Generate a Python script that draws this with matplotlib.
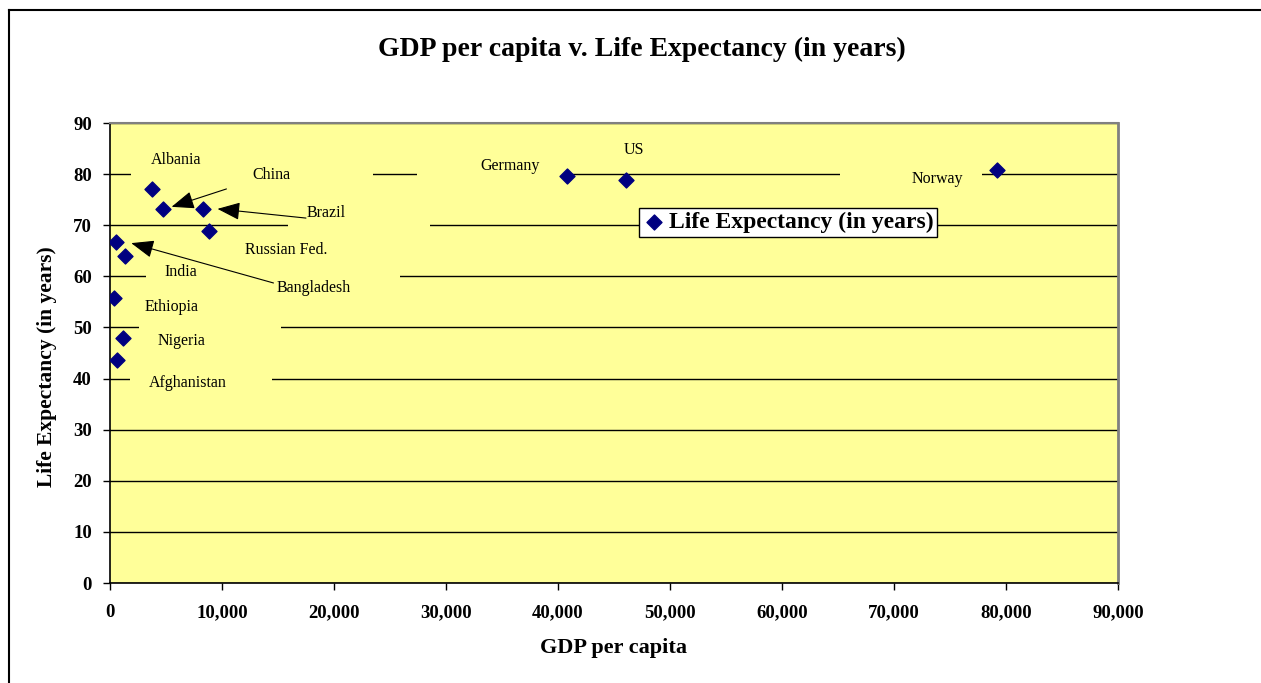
import numpy as np
import matplotlib
matplotlib.use('Agg')
from matplotlib import pyplot as plt
from matplotlib.patches import Rectangle
from matplotlib.lines import Line2D
from matplotlib.ticker import FuncFormatter

plt.rcParams['font.family'] = ['Liberation Serif', 'DejaVu Serif']

# data
countries = ['Albania', 'China', 'Brazil', 'Russian Fed.', 'Bangladesh', 'India',
             'Ethiopia', 'Nigeria', 'Afghanistan', 'Germany', 'US', 'Norway']
gdp = [3750, 4700, 8300, 8800, 540, 1300, 360, 1160, 600, 40800, 46100, 79200]
life_exp = [77.1, 73.2, 73.2, 68.9, 66.7, 64.0, 55.8, 47.9, 43.6, 79.6, 78.8, 80.8]

# label positions (data coords) for each country
label_pos = {
    'Albania': (5900, 82.7), 'China': (14400, 79.8), 'Brazil': (19300, 72.4),
    'Russian Fed.': (15700, 65.2), 'Bangladesh': (18200, 57.7), 'India': (6300, 60.9),
    'Ethiopia': (5500, 54.0), 'Nigeria': (6400, 47.3), 'Afghanistan': (6950, 39.1),
    'Germany': (35700, 81.6), 'US': (46800, 84.8), 'Norway': (73900, 79.1),
}
# arrows: tail point (label side) and tip (near the point)
arrow_tail = {'China': (10400, 77.1), 'Brazil': (17500, 71.4), 'Bangladesh': (14600, 58.7)}
arrow_tip = {'China': (5500, 73.6), 'Brazil': (9600, 73.2), 'Bangladesh': (1900, 66.5)}

# opaque label backgrounds that cut the gridlines: (y, x0, x1)
label_boxes = [(80, 1900, 23500), (80, 27400, 40700), (80, 65200, 77900),
               (70, 15900, 28600), (60, 3200, 25900), (50, 2600, 15300), (40, 1800, 14500)]

yellow = '#FFFF99'
navy = '#000080'

fig = plt.figure(figsize=(12.61, 6.83), dpi=100)
ax = fig.add_axes([0.0872, 0.1464, 0.7994, 0.6735])
ax.set_facecolor(yellow)

ax.scatter(gdp, life_exp, marker='D', s=58, color=navy, zorder=4,
           label='Life Expectancy (in years)')

ax.set_xlim(0, 90000)
ax.set_ylim(0, 90)
ax.set_xticks(np.arange(0, 90001, 10000))
ax.set_yticks(np.arange(0, 91, 10))
ax.xaxis.set_major_formatter(FuncFormatter(lambda v, p: f'{int(v):,}'))
ax.grid(axis='y', color='black', lw=1)
ax.set_axisbelow(True)

for y, x0, x1 in label_boxes:
    ax.add_patch(Rectangle((x0, y - 1.5), x1 - x0, 3, facecolor=yellow,
                           edgecolor='none', zorder=1.5))

for c in countries:
    lx, ly = label_pos[c]
    ax.text(lx, ly, c, fontsize=11.5, ha='center', va='center', zorder=5)

for c in arrow_tail:
    ax.annotate('', xy=arrow_tip[c], xytext=arrow_tail[c], zorder=5,
                arrowprops=dict(arrowstyle='-|>,head_length=1.4,head_width=0.55',
                                color='black', lw=0.8, shrinkA=0, shrinkB=0))

for s in ['top', 'right']:
    ax.spines[s].set_color('#808080')
ax.spines['right'].set_linewidth(2)
ax.spines['top'].set_linewidth(1.5)
for s in ['left', 'bottom']:
    ax.spines[s].set_color('black')
    ax.spines[s].set_linewidth(1.2)

ax.tick_params(axis='both', direction='out', length=5, width=1, labelsize=13.5)
ax.tick_params(axis='y', pad=8)
ax.tick_params(axis='x', pad=10)
for t in ax.get_xticklabels() + ax.get_yticklabels():
    t.set_fontweight('bold')

leg = ax.legend(loc='center', bbox_to_anchor=(0.6726, 0.784), frameon=True,
                fancybox=False, prop={'size': 17, 'weight': 'bold'},
                handletextpad=0.1, handlelength=1.0, borderpad=0.15,
                borderaxespad=0, markerscale=1.0)
leg.get_frame().set_edgecolor('black')
leg.get_frame().set_facecolor('white')
leg.get_frame().set_alpha(1)
leg.get_frame().set_linewidth(1)

fig.text(0.509, 1 - 49 / 683, 'GDP per capita v. Life Expectancy (in years)',
         ha='center', va='center', fontsize=20, fontweight='bold')
fig.text(614 / 1261, 1 - 648 / 683, 'GDP per capita', ha='center', va='center',
         fontsize=16, fontweight='bold')
fig.text(47 / 1261, 1 - 367 / 683, 'Life Expectancy (in years)', ha='center', va='center',
         rotation=90, fontsize=15.5, fontweight='bold')

# outer chart border (top and left visible)
fig.add_artist(Line2D([9 / 1261, 9 / 1261], [0, 1 - 10 / 683], color='black', lw=1.5))
fig.add_artist(Line2D([9 / 1261, 1], [1 - 10 / 683, 1 - 10 / 683], color='black', lw=1.5))

fig.savefig('out.png', dpi=100)
